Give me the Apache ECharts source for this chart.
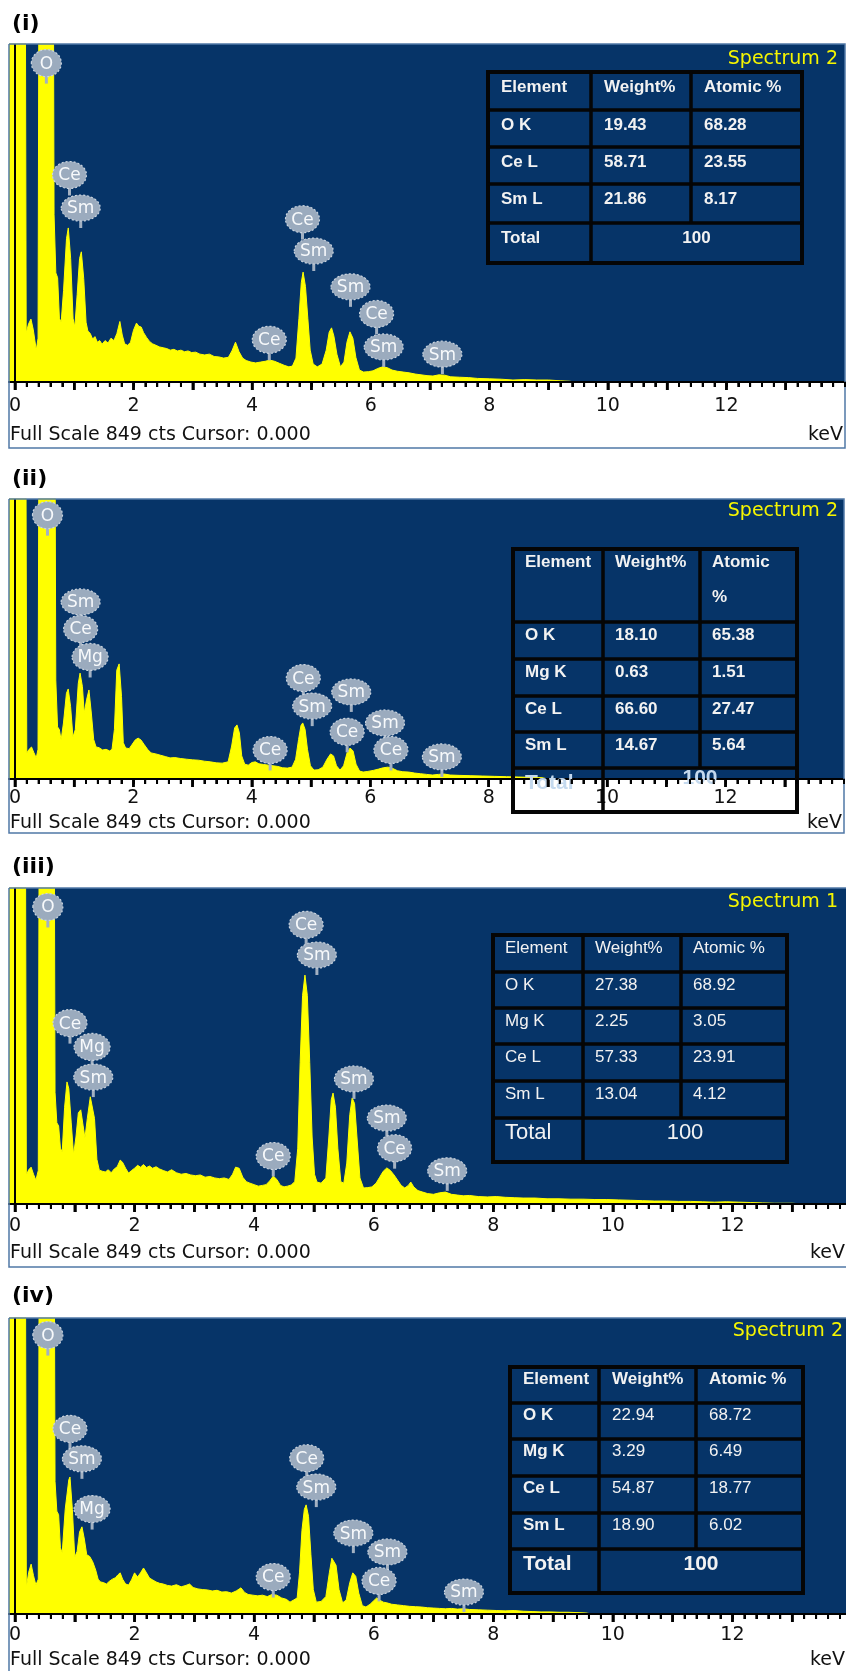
<!DOCTYPE html>
<html><head><meta charset="utf-8">
<script src="https://cdn.jsdelivr.net/npm/echarts@6/dist/echarts.min.js"></script>
<style>html,body{margin:0;padding:0;background:#fff;}#c{width:846px;height:1671px;}</style>
</head><body><div id="c"></div>
<script>
// ---------------- DATA ----------------
const panelTitles = ['(i)', '(ii)', '(iii)', '(iv)'];
const spectrumNames = ['Spectrum 2', 'Spectrum 2', 'Spectrum 1', 'Spectrum 2'];
const footerText = 'Full Scale 849 cts Cursor: 0.000';
const unitText = 'keV';
const fullScale = 849;
const tickLabels = [0, 2, 4, 6, 8, 10, 12];
const intTicks = [0, 1, 2, 3, 4, 5, 6, 7, 8, 9, 10, 11, 12, 13];

// Spectrum (i)
const energyI = [-0.1,0.16,0.19,0.23,0.27,0.31,0.36,0.39,0.42,0.63,0.66,0.69,0.72,0.75,0.78,0.82,0.87,0.9,0.94,0.98,1.01,1.05,1.09,1.12,1.16,1.2,1.23,1.27,1.31,1.35,1.39,1.43,1.47,1.52,1.57,1.62,1.67,1.72,1.77,1.81,1.85,1.9,1.95,2.0,2.05,2.09,2.13,2.17,2.22,2.27,2.32,2.38,2.44,2.5,2.56,2.62,2.68,2.74,2.8,2.86,2.92,2.98,3.05,3.12,3.2,3.28,3.36,3.44,3.52,3.6,3.66,3.72,3.78,3.84,3.9,3.98,4.06,4.14,4.22,4.3,4.38,4.46,4.54,4.62,4.68,4.74,4.79,4.83,4.86,4.9,4.94,4.98,5.03,5.1,5.18,5.25,5.3,5.34,5.38,5.43,5.49,5.55,5.6,5.65,5.7,5.75,5.81,5.88,5.96,6.04,6.12,6.2,6.28,6.36,6.45,6.55,6.65,6.75,6.85,6.95,7.05,7.15,7.25,7.35,7.5,7.65,7.8,8.0,8.2,8.4,8.6,8.8,9.0,9.2,9.35,9.45,14];
const countsI = [2000,2000,123,146,158,131,80,110,2000,2000,420,274,262,160,150,230,360,387,310,160,138,220,310,327,260,150,128,122,108,114,100,104,95,104,98,110,104,122,152,118,96,92,100,130,148,140,138,124,112,102,96,92,88,86,84,80,82,78,80,76,78,74,75,70,68,70,64,63,60,62,78,100,76,60,54,50,48,50,52,55,52,47,42,38,40,60,160,250,276,240,160,80,45,38,45,80,125,136,115,70,38,50,100,126,110,62,30,25,26,28,34,38,36,30,27,25,23,20,18,16,15,18,17,13,12,11,9,8,7,5,6,5,5,3,2,0,0];

// Spectrum (ii)
const energyII = [-0.1,0.17,0.2,0.24,0.28,0.32,0.36,0.39,0.42,0.66,0.69,0.72,0.75,0.78,0.82,0.87,0.9,0.94,0.98,1.02,1.07,1.1,1.14,1.17,1.21,1.25,1.29,1.33,1.37,1.42,1.48,1.54,1.6,1.64,1.68,1.72,1.76,1.8,1.83,1.87,1.93,1.98,2.03,2.08,2.13,2.18,2.24,2.3,2.38,2.46,2.54,2.62,2.7,2.8,2.9,3.0,3.1,3.2,3.3,3.4,3.5,3.6,3.66,3.71,3.75,3.79,3.83,3.88,3.94,4.0,4.06,4.12,4.2,4.28,4.36,4.44,4.52,4.6,4.68,4.74,4.79,4.83,4.86,4.9,4.94,4.99,5.05,5.12,5.2,5.27,5.33,5.38,5.43,5.49,5.55,5.61,5.66,5.71,5.76,5.82,5.88,5.96,6.05,6.14,6.22,6.3,6.38,6.46,6.55,6.65,6.75,6.85,6.95,7.05,7.15,7.25,7.35,7.5,7.7,7.9,8.1,8.3,8.5,8.7,8.9,9.0,14];
const countsII = [2000,2000,79,90,97,80,64,90,2000,2000,300,158,150,118,170,260,273,220,127,150,290,321,280,200,240,270,200,120,97,95,88,90,85,90,150,330,349,250,110,94,92,105,118,124,118,105,90,79,76,72,68,64,65,62,60,58,57,54,52,49,48,52,100,155,164,140,70,45,42,50,52,46,44,42,40,38,34,33,36,60,120,162,170,150,90,40,27,28,36,60,76,70,40,27,40,80,94,85,45,24,21,23,26,30,34,36,32,25,22,21,18,16,14,12,14,15,12,11,10,9,8,7,6,5,4,0,0];

// Spectrum (iii)
const energyIII = [-0.1,0.16,0.19,0.23,0.27,0.31,0.35,0.39,0.42,0.64,0.67,0.7,0.73,0.76,0.79,0.83,0.87,0.9,0.94,0.98,1.02,1.06,1.1,1.14,1.17,1.21,1.26,1.29,1.33,1.37,1.41,1.46,1.51,1.56,1.61,1.66,1.71,1.76,1.8,1.85,1.9,1.95,2.0,2.05,2.1,2.15,2.2,2.25,2.3,2.36,2.42,2.48,2.55,2.62,2.7,2.78,2.86,2.94,3.02,3.1,3.18,3.26,3.34,3.42,3.5,3.58,3.64,3.69,3.75,3.81,3.87,3.93,4.0,4.07,4.14,4.2,4.26,4.32,4.38,4.44,4.5,4.56,4.62,4.68,4.73,4.77,4.81,4.85,4.89,4.93,4.97,5.01,5.05,5.12,5.2,5.25,5.29,5.32,5.36,5.4,5.45,5.5,5.55,5.6,5.64,5.68,5.72,5.77,5.83,5.9,5.97,6.04,6.1,6.16,6.22,6.28,6.34,6.4,6.46,6.52,6.58,6.62,6.67,6.74,6.82,6.9,7.0,7.1,7.2,7.3,7.4,7.5,7.6,7.75,7.9,8.05,8.2,8.35,8.5,8.7,8.9,9.1,9.3,9.5,9.7,9.9,10.1,10.3,10.5,10.7,10.9,11.1,11.3,11.5,11.7,11.9,12.1,12.3,12.5,12.7,13.0,13.2,13.9];
const countsIII = [2000,2000,78,92,99,80,64,90,2000,2000,300,218,210,150,140,260,328,310,220,132,180,245,253,210,177,230,288,290,230,120,91,88,86,92,84,94,100,118,112,96,83,90,96,104,99,106,98,102,96,100,94,90,86,92,84,80,82,78,76,78,72,74,70,68,70,66,80,99,96,72,60,56,52,48,50,52,62,75,66,50,46,48,51,60,150,380,560,615,560,380,180,80,59,56,70,180,280,298,260,150,60,56,110,240,285,270,180,70,43,44,46,56,72,88,97,90,78,64,50,43,50,59,46,36,32,28,26,30,32,26,24,22,23,20,19,20,18,17,16,16,14,14,13,13,12,12,11,10,9,8,8,7,7,6,5,6,5,4,3,2,2,0,0];

// Spectrum (iv)
const energyIV = [-0.1,0.16,0.19,0.23,0.27,0.31,0.35,0.39,0.42,0.64,0.67,0.7,0.73,0.76,0.79,0.84,0.9,0.92,0.96,1.0,1.04,1.08,1.12,1.16,1.2,1.25,1.3,1.35,1.39,1.43,1.48,1.53,1.58,1.63,1.68,1.72,1.76,1.8,1.85,1.9,1.95,2.0,2.05,2.1,2.15,2.2,2.25,2.3,2.36,2.42,2.48,2.55,2.62,2.7,2.78,2.86,2.92,2.98,3.06,3.14,3.22,3.3,3.38,3.46,3.54,3.62,3.7,3.78,3.84,3.9,3.98,4.06,4.14,4.22,4.3,4.38,4.46,4.54,4.6,4.66,4.72,4.76,4.8,4.84,4.87,4.91,4.95,4.99,5.04,5.12,5.2,5.26,5.3,5.33,5.37,5.42,5.48,5.54,5.6,5.65,5.7,5.75,5.81,5.87,5.94,6.0,6.05,6.1,6.16,6.22,6.3,6.4,6.5,6.6,6.7,6.8,6.9,7.0,7.1,7.2,7.3,7.4,7.5,7.6,7.75,7.9,8.05,8.2,8.35,8.5,8.65,8.8,8.95,9.1,9.25,9.4,9.55,9.65,13.9];
const countsIV = [2000,2000,77,120,143,110,83,100,2000,2000,380,295,285,190,175,300,385,393,300,163,180,235,250,215,170,165,150,126,100,92,90,86,94,100,104,112,118,100,86,83,98,118,106,118,132,118,103,98,92,88,86,82,80,84,78,82,86,76,72,70,69,66,68,63,64,60,66,75,62,56,54,52,54,50,56,54,46,42,34,40,46,120,240,300,313,280,170,70,34,36,50,120,160,163,140,70,32,40,90,118,108,60,24,20,28,38,46,40,34,32,28,26,24,22,21,20,18,17,16,15,16,14,15,13,12,11,10,9,10,8,7,6,6,5,5,4,3,0,0];

// Peak labels (element markers)
const peakNamesI = ['O','Ce','Sm','Ce','Sm','Sm','Ce','Sm','Ce','Sm'];
const peakEI = [0.53,0.92,1.11,4.85,5.04,5.66,6.10,6.22,4.29,7.21];
const peakCI = [801,520,437,409,329,239,171,88,106,70];

const peakNamesII = ['O','Sm','Ce','Mg','Ce','Sm','Sm','Ce','Sm','Ce','Ce','Sm'];
const peakEII = [0.55,1.11,1.11,1.27,4.87,5.02,5.68,5.61,6.25,6.35,4.31,7.21];
const peakCII = [800,537,455,370,306,221,264,143,170,88,88,67];

const peakNamesIII = ['O','Ce','Mg','Sm','Ce','Sm','Sm','Sm','Ce','Ce','Sm'];
const peakEIII = [0.55,0.92,1.29,1.31,4.87,5.05,5.67,6.22,6.35,4.32,7.23];
const peakCIII = [798,486,422,341,750,669,336,231,150,129,89];

const peakNamesIV = ['O','Ce','Sm','Mg','Ce','Sm','Sm','Sm','Ce','Ce','Sm'];
const peakEIV = [0.55,0.92,1.12,1.29,4.88,5.04,5.66,6.23,6.09,4.32,7.51];
const peakCIV = [800,531,445,301,447,364,232,178,95,106,63];

// Quantification tables
const tableHeader = ['Element', 'Weight%', 'Atomic %'];
const tableI = [['O K','19.43','68.28'],['Ce L','58.71','23.55'],['Sm L','21.86','8.17']];
const tableII = [['O K','18.10','65.38'],['Mg K','0.63','1.51'],['Ce L','66.60','27.47'],['Sm L','14.67','5.64']];
const tableIII = [['O K','27.38','68.92'],['Mg K','2.25','3.05'],['Ce L','57.33','23.91'],['Sm L','13.04','4.12']];
const tableIV = [['O K','22.94','68.72'],['Mg K','3.29','6.49'],['Ce L','54.87','18.77'],['Sm L','18.90','6.02']];
const totalLabel = 'Total';
const totalValue = '100';

// ---------------- LAYOUT ----------------
const spectra = [[energyI,countsI],[energyII,countsII],[energyIII,countsIII],[energyIV,countsIV]];
const peaks = [[peakNamesI,peakEI,peakCI],[peakNamesII,peakEII,peakCII],[peakNamesIII,peakEIII,peakCIII],[peakNamesIV,peakEIV,peakCIV]];
const tables = [tableI, tableII, tableIII, tableIV];

const L = [
  {titleY:24, top:44, base:382, bottom:448, right:845, xmax:14.0, labelMargin:15, footY:435, specY:59, specX:838,
   tbl:{cols:[488,591,691,802], rows:[72,110,147,184,223,263], dy:15, pad:13,
        hFont:'bold 17px "Liberation Sans"', c1Font:'bold 17px "Liberation Sans"', nFont:'bold 17px "Liberation Sans"', tFont:'bold 17px "Liberation Sans"', tColor:'#f2f2f2'}},
  {titleY:479, top:499, base:779, bottom:833, right:844, xmax:14.0, labelMargin:10, footY:823, specY:511, specX:838,
   tbl:{cols:[513,603,700,797], rows:[549,622,659,696,732,768,812], dy:13, pad:12, twoLineHeader:true,
        hFont:'bold 17px "Liberation Sans"', c1Font:'bold 17px "Liberation Sans"', nFont:'bold 17px "Liberation Sans"', tFont:'bold 21px "Liberation Sans"', tColor:'#c4d9ee', tDy:15, vDy:10}},
  {titleY:867, top:888, base:1204, bottom:1267, right:847, xmax:13.9, labelMargin:13, footY:1253, specY:902, specX:838,
   tbl:{cols:[493,583,681,787], rows:[935,972,1008,1044,1081,1118,1162], dy:13, pad:12,
        hFont:'17px "Liberation Sans"', c1Font:'17px "Liberation Sans"', nFont:'17px "Liberation Sans"', tFont:'22px "Liberation Sans"', tColor:'#f2f2f2', tDy:15}},
  {titleY:1296, top:1318, base:1614, bottom:1676, right:847, xmax:13.9, labelMargin:12, footY:1660, specY:1331, specX:843,
   tbl:{cols:[510,599,696,803], rows:[1367,1403,1439,1476,1513,1549,1593], dy:12, pad:13,
        hFont:'bold 17px "Liberation Sans"', c1Font:'bold 17px "Liberation Sans"', nFont:'17px "Liberation Sans"', tFont:'bold 21px "Liberation Sans"', tColor:'#f2f2f2', tDy:15}}
];

const NAVY = '#063468';
const YELLOW = '#ffff00';
// axis tick positions (every 0.2 keV)
const minorTicks = [];
for (let k = 0; k <= 70; k++) minorTicks.push(Math.round(k * 2) / 10);

const grids = [], xAxes = [], yAxes = [], series = [], graphics = [];

function textEl(text, x, y, font, fill, align, z) {
  return {type:'text', z: z || 60, silent:true,
    style:{text:text, x:x, y:y, font:font, fill:fill, align:align||'left', verticalAlign:'middle', textAlign:align||'left', textVerticalAlign:'middle'}};
}
function lineEl(x1,y1,x2,y2,w,color){
  return {type:'line', z:55, silent:true, shape:{x1:x1,y1:y1,x2:x2,y2:y2}, style:{stroke:color||'#050505', lineWidth:w}};
}

const balloonSize = {O:[15,13.5], Ce:[17,13.5], Sm:[19.5,13], Mg:[18,13.5]};

L.forEach((p, i) => {
  grids.push({left:9, right:846 - p.right, top:p.top, height:p.base - p.top, show:true, backgroundColor:NAVY, borderWidth:0});
  xAxes.push({gridIndex:i, type:'value', min:-0.1, max:p.xmax, position:'bottom', splitLine:{show:false}, z:30,
    axisLine:{show:true, onZero:false, lineStyle:{color:'#000', width:2}},
    axisTick:{show:true, customValues:minorTicks, length:5, lineStyle:{color:'#000', width:2}},
    axisLabel:{show:true, customValues:tickLabels, margin:p.labelMargin, color:'#111', fontSize:19, fontFamily:'"DejaVu Sans"', formatter:(v)=>String(v)}
  });
  xAxes.push({gridIndex:i, type:'value', min:-0.1, max:p.xmax, position:'bottom', splitLine:{show:false}, z:30,
    axisLine:{show:false}, axisLabel:{show:false},
    axisTick:{show:true, customValues:intTicks, length:8, lineStyle:{color:'#000', width:2.5}}
  });
  yAxes.push({gridIndex:i, type:'value', min:0, max:fullScale, show:false});

  const [E, C] = spectra[i];
  series.push({
    type:'line', xAxisIndex:2*i, yAxisIndex:i, data:E.map((e,k)=>[e, C[k]]),
    symbol:'none', smooth:false, clip:true, animation:false, silent:true,
    lineStyle:{color:YELLOW, width:1}, itemStyle:{color:YELLOW},
    areaStyle:{color:YELLOW, opacity:1}, z:2,
    markLine:{silent:true, symbol:['none','none'], label:{show:false}, animation:false,
      lineStyle:{color:'#000', width:2, type:'solid'}, data:[{xAxis:0}]}
  });

  const [names, pe, pc] = peaks[i];
  series.push({
    type:'custom', xAxisIndex:2*i, yAxisIndex:i, z:5, clip:false, animation:false, silent:true,
    data: pe.map((e,k)=>[e, pc[k]]),
    renderItem: function(params, api){
      const pt = api.coord([api.value(0), api.value(1)]);
      const nm = names[params.dataIndex];
      const sz = balloonSize[nm] || [17,13.5];
      return {type:'group', children:[
        {type:'rect', shape:{x:pt[0]-1.5, y:pt[1], width:3, height:sz[1]+7}, style:{fill:'#a3b1c2'}},
        {type:'ellipse', shape:{cx:pt[0], cy:pt[1], rx:sz[0], ry:sz[1]}, style:{fill:'#9babbe', stroke:'#c9d3de', lineWidth:1.2, lineDash:[2,2]}},
        {type:'text', style:{text:nm, x:pt[0], y:pt[1]+1, fill:'#f7f9fb', font:'17px "DejaVu Sans"', align:'center', verticalAlign:'middle', textAlign:'center', textVerticalAlign:'middle'}}
      ]};
    }
  });

  graphics.push({type:'polyline', z:50, silent:true,
    shape:{points:[[9,p.top],[p.right,p.top],[p.right,p.bottom],[9,p.bottom],[9,p.top]]},
    style:{stroke:'#5078a6', lineWidth:1.5, fill:null}});
  graphics.push(textEl(panelTitles[i], 12, p.titleY, 'bold 22px "DejaVu Sans"', '#000', 'left'));
  graphics.push(textEl(spectrumNames[i], p.specX, p.specY, '19px "DejaVu Sans"', '#f5f500', 'right'));
  graphics.push(textEl(footerText, 10, p.footY, '19px "DejaVu Sans"', '#111', 'left'));
  graphics.push(textEl(unitText, p.right - 2, p.footY, '19px "DejaVu Sans"', '#111', 'right'));

  const t = p.tbl, cols = t.cols, rows = t.rows;
  const top = rows[0], bot = rows[rows.length-1];
  graphics.push(lineEl(cols[0], top, cols[3], top, 4));
  graphics.push(lineEl(cols[0], bot, cols[3], bot, 4));
  graphics.push(lineEl(cols[0], top-2, cols[0], bot+2, 4));
  graphics.push(lineEl(cols[3], top-2, cols[3], bot+2, 4));
  for (let r = 1; r < rows.length-1; r++) graphics.push(lineEl(cols[0], rows[r], cols[3], rows[r], 3.5));
  graphics.push(lineEl(cols[1], top, cols[1], bot, 3.5));
  graphics.push(lineEl(cols[2], top, cols[2], rows[rows.length-2], 3.5));
  const hy = top + t.dy;
  graphics.push(textEl(tableHeader[0], cols[0]+t.pad, hy, t.hFont, '#f2f2f2'));
  graphics.push(textEl(tableHeader[1], cols[1]+t.pad, hy, t.hFont, '#f2f2f2'));
  if (t.twoLineHeader) {
    const parts = tableHeader[2].split(' ');
    graphics.push(textEl(parts[0], cols[2]+t.pad, hy, t.hFont, '#f2f2f2'));
    graphics.push(textEl(parts[1], cols[2]+t.pad, hy+35, t.hFont, '#f2f2f2'));
  } else {
    graphics.push(textEl(tableHeader[2], cols[2]+t.pad, hy, t.hFont, '#f2f2f2'));
  }
  tables[i].forEach((row, r) => {
    const y = rows[r+1] + t.dy;
    graphics.push(textEl(row[0], cols[0]+t.pad, y, t.c1Font, '#f2f2f2'));
    graphics.push(textEl(row[1], cols[1]+t.pad, y, t.nFont, '#f2f2f2'));
    graphics.push(textEl(row[2], cols[2]+t.pad, y, t.nFont, '#f2f2f2'));
  });
  const ty = rows[rows.length-2] + (t.tDy || t.dy);
  graphics.push(textEl(totalLabel, cols[0]+t.pad, ty, t.tFont, t.tColor));
  graphics.push(textEl(totalValue, (cols[1]+cols[3])/2, rows[rows.length-2] + (t.vDy || t.tDy || t.dy), t.tFont, t.tColor, 'center'));
});

const chart = echarts.init(document.getElementById('c'), null, {renderer:'canvas', width:846, height:1671});
chart.setOption({
  animation:false,
  backgroundColor:'#ffffff',
  grid:grids, xAxis:xAxes, yAxis:yAxes, series:series,
  graphic:{elements:graphics}
});

// tick marks on top, positioned through each panel's x scale
try {
  const tickEls = [];
  L.forEach((p, i) => {
    const y0 = chart.convertToPixel({yAxisIndex:i}, 0);
    minorTicks.forEach(v => {
      const x = chart.convertToPixel({xAxisIndex:2*i}, v);
      const isInt = intTicks.indexOf(v) >= 0;
      const len = isInt ? 8 : 5;
      const w = isInt ? 2.5 : 2;
      tickEls.push({type:'rect', z:200, silent:true, shape:{x:x - w/2, y:y0, width:w, height:len}, style:{fill:'#000'}});
    });
  });
  chart.setOption({graphic:{elements:graphics.concat(tickEls)}});
} catch (e) {}
</script>
</body></html>
